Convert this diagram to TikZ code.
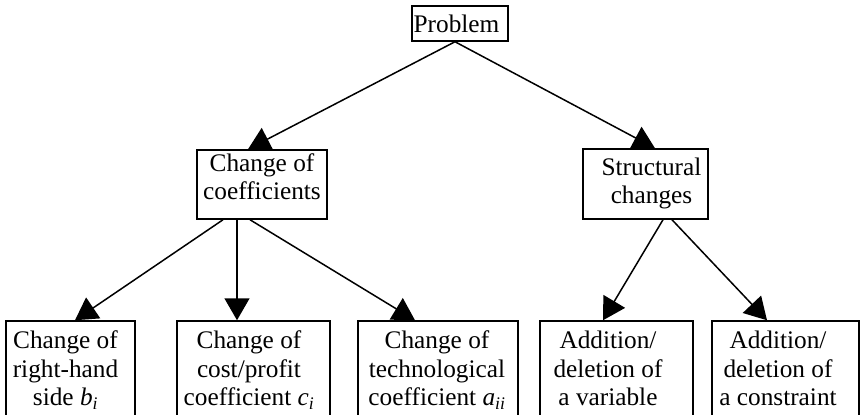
\documentclass[tikz,border=0pt]{standalone}
\usepackage{fontspec}
\setmainfont{Liberation Serif}
\usepackage{tikz}
\usetikzlibrary{arrows.meta}
\newcommand{\subv}[2]{\textit{#1}\textsubscript{\textit{#2}}}
\tikzset{
  box/.style ={draw, line width=1.5pt, inner sep=0pt},
  txt/.style ={font=\fontsize{25.3}{28.5}\selectfont, align=center, inner sep=0pt, anchor=north},
  arr/.style ={-{Triangle[length=22pt,width=25pt]}, line width=1.5pt},
}
\begin{document}
\begin{tikzpicture}[x=1pt,y=-1pt]
\useasboundingbox (0,0) rectangle (860,415);
\clip (0,0) rectangle (860,415);
% top and middle level
\node[box, minimum width=96, minimum height=35,
      label={[txt,xshift=-3.5,yshift=-9]north:Problem}] (prob) at (460,23.5) {};
\node[box, minimum width=130, minimum height=69,
      label={[txt,yshift=-4]north:Change of\\coefficients}] (coef) at (262,184.5) {};
\node[box, minimum width=125, minimum height=70,
      label={[txt,xshift=6,yshift=-9]north:Structural\\changes}] (strc) at (645.5,184) {};
% bottom level
\node[box, minimum width=129, minimum height=99,
      label={[txt,xshift=-5,yshift=-10.5]north:Change of\\right-hand\\side \subv{b}{i}}] (rhs) at (70.5,370.5) {};
\node[box, minimum width=153, minimum height=99,
      label={[txt,xshift=-4.5,yshift=-10.5]north:Change of\\cost/profit\\coefficient \subv{c}{i}}] (cost) at (253.5,370.5) {};
\node[box, minimum width=160, minimum height=99,
      label={[txt,xshift=-1,yshift=-10.5]north:Change of\\technological\\coefficient \subv{a}{ii}}] (tech) at (438,370.5) {};
\node[box, minimum width=153, minimum height=99,
      label={[txt,xshift=-8.5,yshift=-10.5]north:Addition/\\deletion of\\a variable}] (addv) at (616.5,370.5) {};
\node[box, minimum width=147, minimum height=99,
      label={[txt,xshift=-7.5,yshift=-10.5]north:Addition/\\deletion of\\a constraint}] (addc) at (785.5,370.5) {};
% connectors
\draw[arr] ([xshift=-5]prob.south) -- ([xshift=-14]coef.north);
\draw[arr] ([xshift=-5]prob.south) -- ([xshift=9.5]strc.north);
\draw[arr] ([xshift=-39]coef.south) -- ([xshift=4.5]rhs.north);
\draw[arr] ([xshift=-25]coef.south) -- ([xshift=-16.5]cost.north);
\draw[arr] ([xshift=-12]coef.south) -- ([xshift=-23]tech.north);
\draw[arr] ([xshift=17.5]strc.south) -- ([xshift=-13.5]addv.north);
\draw[arr] ([xshift=26.5]strc.south) -- ([xshift=-18.5]addc.north);
\end{tikzpicture}
\end{document}
